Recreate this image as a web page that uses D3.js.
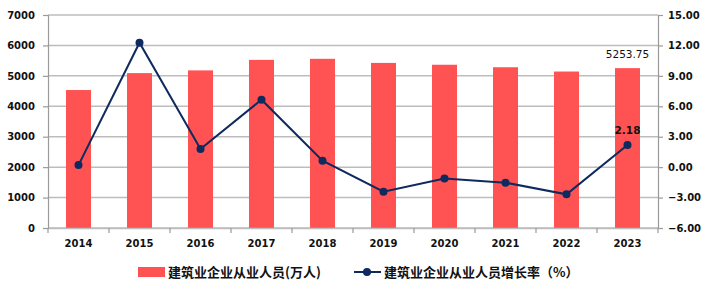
<!DOCTYPE html>
<html>
<head>
<meta charset="utf-8">
<script src="https://cdn.jsdelivr.net/npm/d3@7"></script>
<style>
  body { margin: 0; background: #fff; }
  text { font-family: "DejaVu Sans", sans-serif; }
</style>
</head>
<body>
<div id="chart"></div>
<script>
// data
var years = ["2014", "2015", "2016", "2017", "2018", "2019", "2020", "2021", "2022", "2023"];
var workers = [4534, 5090, 5180, 5525, 5560, 5425, 5365, 5283, 5142, 5253.75];
var growth = [0.2, 12.27, 1.78, 6.65, 0.63, -2.42, -1.11, -1.53, -2.68, 2.18];
var leftTicks = [0, 1000, 2000, 3000, 4000, 5000, 6000, 7000];
var rightTicks = [-6, -3, 0, 3, 6, 9, 12, 15];
var barName = "建筑业企业从业人员(万人)";
var lineName = "建筑业企业从业人员增长率（%）";

var W = 714, H = 294;
var pLeft = 48, pRight = 658, pTop = 15, pBottom = 228;
var barColor = "#FF5252", lineColor = "#0E2A5F", gridColor = "#BDBDBD";

var svg = d3.select("#chart").append("svg").attr("width", W).attr("height", H);

var x = d3.scaleBand().domain(years).range([pLeft, pRight]).paddingInner(0.59).paddingOuter(0.295);
var yL = d3.scaleLinear().domain([0, 7000]).range([pBottom, pTop]);
var yR = d3.scaleLinear().domain([-6, 15]).range([pBottom, pTop]);

// gridlines
svg.selectAll(".grid").data(leftTicks).enter().append("line")
  .attr("x1", pLeft).attr("x2", pRight)
  .attr("y1", function (d) { return yL(d); }).attr("y2", function (d) { return yL(d); })
  .attr("stroke", gridColor).attr("stroke-width", 1.5);

// bars
svg.selectAll(".bar").data(workers).enter().append("rect")
  .attr("x", function (d, i) { return x(years[i]); })
  .attr("width", x.bandwidth())
  .attr("y", function (d) { return yL(d); })
  .attr("height", function (d) { return pBottom - yL(d); })
  .attr("fill", barColor);

// axes
var axisL = svg.append("g").attr("transform", "translate(" + pLeft + ",0)")
  .call(d3.axisLeft(yL).tickValues(leftTicks).tickSize(5).tickPadding(8).tickFormat(d3.format("d")));
var axisR = svg.append("g").attr("transform", "translate(" + pRight + ",0)")
  .call(d3.axisRight(yR).tickValues(rightTicks).tickSize(5).tickPadding(5).tickFormat(d3.format(".2f")));
var xStep = (pRight - pLeft) / years.length;
var axisX = svg.append("g").attr("transform", "translate(0," + pBottom + ")")
  .call(d3.axisBottom(x).tickSize(0).tickPadding(12));
axisX.selectAll("line.edge").data(d3.range(years.length + 1)).enter().append("line")
  .attr("class", "edge")
  .attr("x1", function (d) { return pLeft + d * xStep; }).attr("x2", function (d) { return pLeft + d * xStep; })
  .attr("y1", 0).attr("y2", 5);

[axisL, axisR, axisX].forEach(function (g) {
  g.select(".domain").attr("stroke", "#9A9A9A").attr("stroke-width", 1.2);
  g.selectAll("line").attr("stroke", "#9A9A9A").attr("stroke-width", 1.2);
  g.selectAll("text").attr("fill", "#111").style("font-size", "10px").style("font-weight", "bold")
    .style("font-family", "DejaVu Sans, sans-serif");
});
axisX.select(".domain").attr("stroke", gridColor).attr("stroke-width", 1.5);

// line
var cx = function (i) { return x(years[i]) + x.bandwidth() / 2; };
svg.append("path").datum(growth)
  .attr("d", d3.line().x(function (d, i) { return cx(i); }).y(function (d) { return yR(d); }))
  .attr("fill", "none").attr("stroke", lineColor).attr("stroke-width", 2);
svg.selectAll(".dot").data(growth).enter().append("circle")
  .attr("cx", function (d, i) { return cx(i); }).attr("cy", function (d) { return yR(d); })
  .attr("r", 4).attr("fill", lineColor);

// data labels for last point
var last = years.length - 1;
svg.append("text").attr("x", cx(last)).attr("y", yL(workers[last]) - 10)
  .attr("text-anchor", "middle").style("font-size", "10.5px").attr("fill", "#111")
  .text(workers[last].toFixed(2));
svg.append("text").attr("x", cx(last)).attr("y", yR(growth[last]) - 11)
  .attr("text-anchor", "middle").style("font-size", "10.5px").style("font-weight", "bold").attr("fill", "#111")
  .text(growth[last].toFixed(2));

// legend
var ly = 272;
svg.append("rect").attr("x", 138).attr("y", ly - 5).attr("width", 27).attr("height", 10).attr("fill", barColor);
svg.append("text").attr("x", 168).attr("y", ly).attr("dy", "0.35em")
  .style("font-family", "Noto Sans CJK SC, sans-serif").style("font-size", "13px").style("font-weight", "bold")
  .attr("fill", "#111").text(barName);
svg.append("line").attr("x1", 354).attr("x2", 381).attr("y1", ly).attr("y2", ly)
  .attr("stroke", lineColor).attr("stroke-width", 2);
svg.append("circle").attr("cx", 367).attr("cy", ly).attr("r", 4).attr("fill", lineColor);
svg.append("text").attr("x", 384).attr("y", ly).attr("dy", "0.35em")
  .style("font-family", "Noto Sans CJK SC, sans-serif").style("font-size", "13px").style("font-weight", "bold")
  .attr("fill", "#111").text(lineName);
</script>
</body>
</html>
